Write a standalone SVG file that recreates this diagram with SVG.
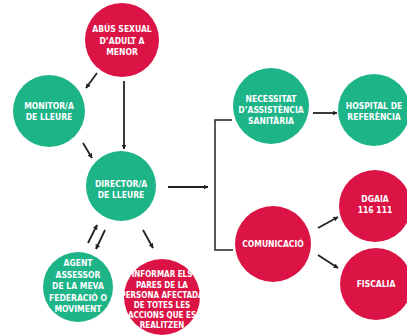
<svg xmlns="http://www.w3.org/2000/svg" width="407" height="336" viewBox="0 0 407 336">
<defs>
<marker id="ah" viewBox="0 0 10 10" refX="9" refY="5" markerWidth="5" markerHeight="5" orient="auto" markerUnits="userSpaceOnUse">
<path d="M0,0 L10,5 L0,10 z" fill="#222"/>
</marker>
<style>
.red{fill:#dc1446}
.green{fill:#1db488}
text{font-family:"Liberation Sans Narrow","DejaVu Sans Condensed","Liberation Sans",sans-serif;font-weight:bold;font-size:8.5px;fill:#fff;text-anchor:middle}
.sm{font-size:8px}
.c{stroke:#222;stroke-width:1.5;fill:none}
.a{stroke:#222;stroke-width:1.8;fill:none;marker-end:url(#ah)}
</style>
</defs>
<rect width="407" height="336" fill="#fff"/>
<g id="connectors">
<line class="a" x1="97" y1="73" x2="86" y2="88"/>
<line class="a" x1="124" y1="81" x2="124" y2="149"/>
<line class="a" x1="83" y1="143" x2="92" y2="158"/>
<line class="a" x1="168" y1="187" x2="208" y2="187"/>
<polyline class="c" points="232,120 215,120 215,250 233,250"/>
<line class="a" x1="313" y1="113" x2="337" y2="113"/>
<line class="a" x1="318" y1="228" x2="338" y2="217"/>
<line class="a" x1="318" y1="255" x2="338" y2="268"/>
<line class="a" x1="88" y1="243" x2="97" y2="225"/>
<line class="a" x1="105" y1="230" x2="96" y2="249"/>
<line class="a" x1="143" y1="230" x2="153" y2="248"/>
</g>
<g id="abus">
<circle class="red" cx="122" cy="40" r="37"/>
<text x="122" y="32">ABÚS SEXUAL</text>
<text x="122" y="43.5">D’ADULT A</text>
<text x="122" y="55">MENOR</text>
</g>
<g id="monitor">
<circle class="green" cx="49" cy="111" r="36"/>
<text x="49" y="109">MONITOR/A</text>
<text x="49" y="120">DE LLEURE</text>
</g>
<g id="director">
<circle class="green" cx="121" cy="186" r="35"/>
<text x="121" y="187">DIRECTOR/A</text>
<text x="121" y="198">DE LLEURE</text>
</g>
<g id="agent">
<circle class="green" cx="78" cy="287" r="35"/>
<text x="78" y="266">AGENT</text>
<text x="78" y="277.5">ASSESSOR</text>
<text x="78" y="289">DE LA MEVA</text>
<text x="78" y="300.5">FEDERACIÓ O</text>
<text x="78" y="312">MOVIMENT</text>
</g>
<g id="informar">
<circle class="red" cx="162" cy="297" r="38"/>
<text class="sm" x="162" y="277">INFORMAR ELS</text>
<text class="sm" x="162" y="287.5">PARES DE LA</text>
<text class="sm" x="162" y="297.5">PERSONA AFECTADA</text>
<text class="sm" x="162" y="307.5">DE TOTES LES</text>
<text class="sm" x="162" y="317.5">ACCIONS QUE ES</text>
<text class="sm" x="162" y="327.5">REALITZEN</text>
</g>
<g id="necessitat">
<circle class="green" cx="271" cy="106" r="38"/>
<text x="271" y="102">NECESSITAT</text>
<text x="271" y="113">D’ASSISTÈNCIA</text>
<text x="271" y="124">SANITÀRIA</text>
</g>
<g id="hospital">
<circle class="green" cx="374" cy="110" r="36"/>
<text x="374" y="109">HOSPITAL DE</text>
<text x="374" y="120">REFERÈNCIA</text>
</g>
<g id="comunicacio">
<circle class="red" cx="273" cy="244" r="38"/>
<text x="273" y="247">COMUNICACIÓ</text>
</g>
<g id="dgaia">
<circle class="red" cx="375" cy="206" r="36"/>
<text x="375" y="202">DGAIA</text>
<text x="375" y="213">116 111</text>
</g>
<g id="fiscalia">
<circle class="red" cx="376" cy="284" r="36"/>
<text x="376" y="287">FISCALIA</text>
</g>
</svg>
